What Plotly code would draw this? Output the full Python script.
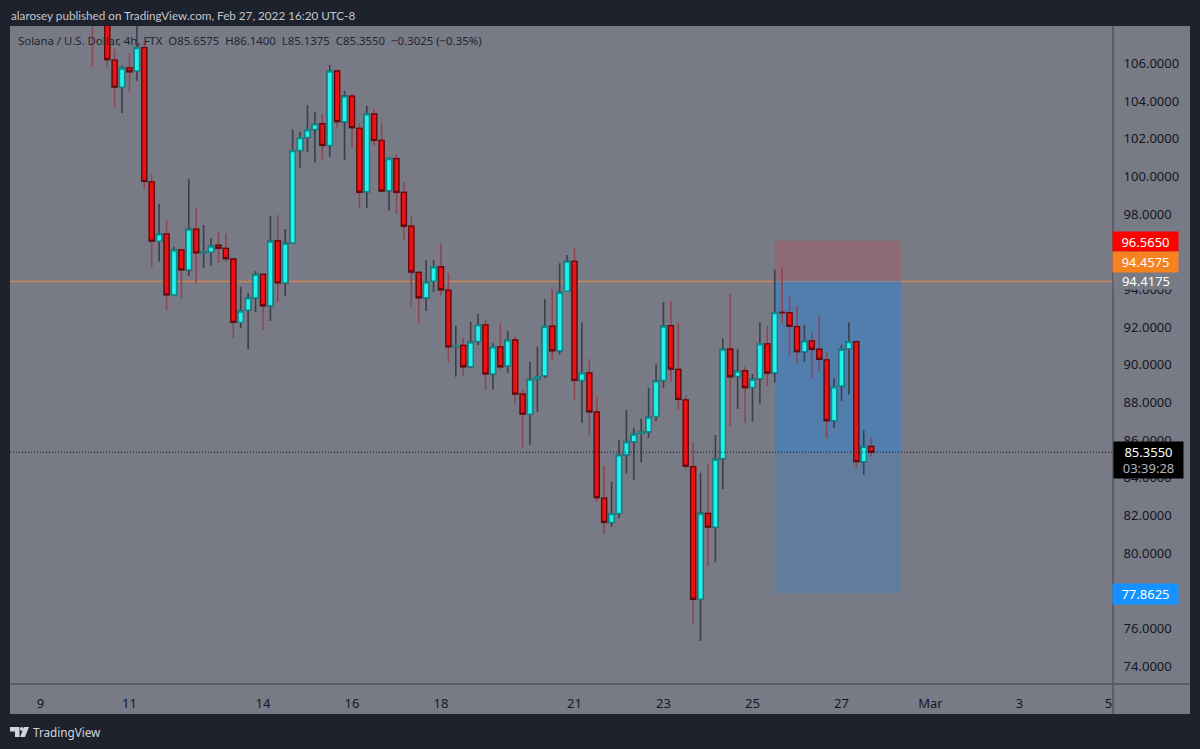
import pandas as pd
import plotly.graph_objects as go

# SOL/USD 4h candles (FTX), from Feb 10 04:00 to Feb 27 16:00
bar_start = "2022-02-10 04:00"
opens = [110.5, 109.0, 111.0, 106.17, 104.74, 105.76, 105.59, 106.83, 99.71, 96.56,
         96.94, 93.71, 96.10, 95.03, 97.20, 95.95, 95.98, 96.34, 96.18, 95.61,
         92.25, 92.90, 93.55, 94.80, 93.13, 96.58, 94.34, 96.46, 101.38, 102.07,
         102.49, 102.79, 101.64, 105.59, 102.90, 104.26, 102.55, 99.18, 103.31, 101.91,
         99.24, 100.94, 99.15, 97.36, 94.90, 93.55, 94.43, 95.20, 93.96, 90.97,
         91.03, 89.89, 91.24, 92.11, 89.51, 90.95, 89.93, 91.31, 88.44, 87.38,
         89.24, 89.42, 92.05, 90.74, 93.90, 95.49, 89.17, 89.57, 87.49, 82.92,
         81.63, 82.11, 85.22, 85.91, 86.36, 86.44, 87.26, 89.17, 92.07, 89.75,
         88.13, 84.59, 77.56, 82.11, 81.38, 85.01, 90.83, 89.38, 89.68, 88.80,
         89.26, 91.11, 89.57, 92.78, 92.76, 92.02, 90.69, 91.27, 90.82, 90.26,
         87.03, 88.87, 90.85, 91.22, 84.85, 85.6575]
highs = [111.0, 111.8, 111.6, 106.76, 105.87, 106.54, 108.6, 107.14, 100.12, 98.53,
         97.68, 96.26, 96.10, 99.84, 98.32, 97.41, 96.72, 97.04, 96.99, 95.65,
         94.14, 93.81, 94.97, 94.82, 97.91, 97.95, 97.20, 102.49, 102.37, 103.77,
         103.43, 103.29, 105.91, 105.61, 104.53, 104.40, 102.81, 103.73, 103.56, 102.84,
         100.96, 101.13, 99.71, 97.86, 94.92, 95.56, 95.56, 96.44, 94.85, 92.05,
         91.40, 92.28, 92.69, 92.37, 91.14, 92.20, 91.80, 91.49, 88.69, 90.16,
         90.95, 93.47, 94.00, 95.38, 95.82, 96.18, 92.25, 90.30, 88.30, 84.62,
         83.79, 86.00, 87.59, 86.62, 87.15, 88.78, 90.02, 93.31, 93.40, 92.25,
         88.35, 85.91, 84.27, 84.71, 86.27, 91.40, 93.74, 90.82, 89.89, 89.51,
         92.25, 92.07, 95.06, 95.17, 93.61, 93.11, 92.11, 91.70, 92.64, 90.69,
         89.28, 91.04, 92.25, 91.24, 86.53, 86.14]
lows = [105.82, 108.3, 105.82, 103.69, 103.36, 104.49, 105.07, 99.33, 95.19, 95.47,
        92.90, 93.71, 93.55, 94.71, 94.32, 95.13, 95.25, 95.40, 95.47, 91.42,
        91.95, 90.83, 92.80, 91.84, 92.32, 93.34, 93.65, 96.46, 100.46, 101.29,
        100.74, 100.90, 101.04, 102.58, 100.85, 101.52, 98.32, 98.33, 101.62, 99.20,
        98.17, 98.00, 96.62, 93.08, 92.23, 92.85, 93.87, 93.68, 90.13, 89.36,
        89.40, 89.81, 91.04, 88.66, 88.69, 89.72, 89.57, 87.90, 85.59, 85.75,
        87.50, 89.28, 90.25, 90.55, 93.88, 88.13, 86.92, 86.27, 82.73, 81.01,
        81.40, 81.85, 84.23, 83.88, 84.82, 86.12, 87.01, 88.78, 89.10, 87.59,
        84.45, 76.24, 75.33, 79.33, 79.51, 83.40, 86.76, 87.65, 86.89, 86.97,
        87.90, 88.88, 89.04, 92.20, 90.46, 90.07, 90.16, 89.28, 89.63, 86.09,
        86.62, 88.07, 88.43, 84.50, 84.14, 85.1375]
closes = [109.0, 111.0, 106.20, 104.74, 105.75, 105.55, 106.83, 99.73, 96.56, 96.94,
          93.71, 96.09, 95.03, 97.20, 95.94, 95.98, 96.30, 96.18, 95.63, 92.25,
          92.85, 93.55, 94.80, 93.13, 96.56, 94.34, 96.44, 101.36, 102.05, 102.47,
          102.78, 101.64, 105.59, 102.90, 104.26, 102.58, 99.15, 103.31, 101.91, 99.22,
          100.94, 99.15, 97.35, 94.92, 93.55, 94.39, 95.20, 93.98, 90.95, 91.01,
          89.89, 91.20, 92.11, 89.51, 90.95, 89.89, 91.31, 88.44, 87.38, 89.22,
          89.36, 92.04, 90.74, 93.84, 95.49, 89.17, 89.57, 87.50, 82.94, 81.63,
          82.09, 85.21, 85.90, 86.32, 86.43, 87.22, 89.13, 92.05, 89.77, 88.16,
          84.61, 77.55, 82.11, 81.38, 84.98, 90.82, 89.36, 89.66, 88.78, 89.22,
          91.11, 89.56, 92.76, 92.76, 92.04, 90.69, 91.26, 90.82, 90.29, 87.03,
          88.83, 90.82, 91.22, 84.85, 85.66, 85.355]
bar_times = pd.date_range(bar_start, periods=len(opens), freq="4h")

# Price levels
stop_price = 96.565
entry_price = 94.4575
target_price = 77.8625
level_price = 94.4175
last_price = 85.355
position_start = "2022-02-25 12:00"
position_end = "2022-02-28 08:00"

tick_dates = ["2022-02-09", "2022-02-11", "2022-02-14", "2022-02-16", "2022-02-18",
              "2022-02-21", "2022-02-23", "2022-02-25", "2022-02-27", "2022-03-01",
              "2022-03-03", "2022-03-05"]
tick_labels = ["9", "11", "14", "16", "18", "21", "23", "25", "27", "Mar", "3", "5"]
price_ticks = [74, 76, 80, 82, 84, 86, 88, 90, 92, 94, 96, 98, 100, 102, 104, 106]

# Page geometry in pixels
W, H = 1200, 749
PL, PR, PT, PB = 10, 1113, 26, 684
PANEL_R, PANEL_B = 1190, 714
PW, PH = PR - PL, PB - PT

DARK = "#1e222d"
PANE = "#787b86"
EDGE = "#50535e"
TEXT = "#131722"
FONT = "Noto Sans"


def fx(px):
    return (px - PL) / PW


def fy(py):
    return (PB - py) / PH


fig = go.Figure()

# Wicks sit in their own layer so they can be coloured separately from body outlines
fig.add_trace(go.Candlestick(
    x=bar_times, open=opens, high=highs, low=lows, close=closes,
    increasing=dict(line=dict(color="#3c3f4a", width=1.6), fillcolor="#22f2ec"),
    decreasing=dict(line=dict(color="#8e4653", width=1.6), fillcolor="#ee1111"),
    hoverinfo="skip", showlegend=False,
))
fig.add_trace(go.Candlestick(
    x=bar_times, open=opens, close=closes,
    high=[max(o, c) for o, c in zip(opens, closes)],
    low=[min(o, c) for o, c in zip(opens, closes)],
    increasing=dict(line=dict(color="#128a8c", width=1.3), fillcolor="#22f2ec"),
    decreasing=dict(line=dict(color="#5e0a0e", width=1.3), fillcolor="#ee1111"),
    hoverinfo="skip", showlegend=False,
))

shapes = [
    # Axis panels
    dict(type="rect", xref="paper", yref="paper", x0=1, x1=fx(PANEL_R), y0=fy(PANEL_B), y1=1,
         fillcolor=PANE, line_width=0, layer="below"),
    dict(type="rect", xref="paper", yref="paper", x0=0, x1=1, y0=fy(PANEL_B), y1=0,
         fillcolor=PANE, line_width=0, layer="below"),
    # Position tool: stop zone, traversed zone, remaining target zone
    dict(type="rect", xref="x", yref="y", x0=position_start, x1=position_end,
         y0=entry_price, y1=stop_price, fillcolor="rgba(190,70,80,0.32)", line_width=0, layer="below"),
    dict(type="rect", xref="x", yref="y", x0=position_start, x1=position_end,
         y0=last_price, y1=entry_price, fillcolor="rgba(30,130,230,0.42)", line_width=0, layer="below"),
    dict(type="rect", xref="x", yref="y", x0=position_start, x1=position_end,
         y0=target_price, y1=last_price, fillcolor="rgba(30,130,230,0.24)", line_width=0, layer="below"),
    # Horizontal level and last-price line
    dict(type="line", xref="paper", yref="y", x0=0, x1=1, y0=level_price, y1=level_price,
         line=dict(color="#cf8550", width=1.4), layer="below"),
    dict(type="line", xref="paper", yref="y", x0=0, x1=1, y0=last_price, y1=last_price,
         line=dict(color="#1a1a1a", width=1, dash="1px,2px"), layer="above"),
    # Pane separators
    dict(type="line", xref="paper", yref="paper", x0=1, x1=1, y0=fy(PANEL_B), y1=1,
         line=dict(color=EDGE, width=1.5)),
    dict(type="line", xref="paper", yref="paper", x0=0, x1=fx(PANEL_R), y0=0, y1=0,
         line=dict(color=EDGE, width=1.5)),
    # Brand mark in the footer
    dict(type="path", xref="paper", yref="paper", fillcolor="#d1d4dc", line_width=0,
         path=" ".join([
             f"M {fx(10)} {fy(727)} L {fx(19.5)} {fy(727)} L {fx(19.5)} {fy(737)} L {fx(15)} {fy(737)} "
             f"L {fx(15)} {fy(731.5)} L {fx(10)} {fy(731.5)} Z",
             f"M {fx(24)} {fy(727)} L {fx(29)} {fy(727)} L {fx(25)} {fy(737)} L {fx(20)} {fy(737)} Z",
         ])),
    dict(type="circle", xref="paper", yref="paper", x0=fx(20), x1=fx(23.6), y0=fy(731), y1=fy(727),
         fillcolor="#d1d4dc", line_width=0),
]


def price_tag(text, price, x0, x1, height, bg, color="#ffffff", shift=0):
    return dict(xref="paper", yref="y", x=fx((x0 + x1) / 2), y=price, yshift=shift,
                text=text, showarrow=False, width=x1 - x0, height=height, bgcolor=bg,
                font=dict(family=FONT, size=13, color=color), align="center", borderpad=0,
                xanchor="center", yanchor="middle")


annotations = [
    dict(xref="paper", yref="paper", x=fx(9), y=fy(15), xanchor="left", yanchor="middle",
         showarrow=False, text="alarosey published on TradingView.com, Feb 27, 2022 16:20 UTC-8",
         font=dict(family="Lato", size=11.7, color="#c3c6ce")),
    dict(xref="paper", yref="paper", x=fx(15.5), y=fy(41), xanchor="left", yanchor="middle",
         showarrow=False,
         text="Solana / U.S. Dollar, 4h, FTX  O85.6575  H86.1400  L85.1375  C85.3550  −0.3025 (−0.35%)",
         font=dict(family=FONT, size=11.4, color="#22252f")),
    dict(xref="paper", yref="paper", x=fx(31), y=fy(732), xanchor="left", yanchor="middle",
         showarrow=False, text="TradingView",
         font=dict(family=FONT, size=11.7, color="#d1d4dc")),
    # Labels on the price scale
    price_tag("94.4175", level_price, 1114, 1178, 16, PANE),
    price_tag("96.5650", stop_price, 1113, 1178, 19, "#ff0000"),
    price_tag("94.4575", entry_price, 1113, 1178, 20, "#f5811f", shift=19),
    price_tag("77.8625", target_price, 1113, 1178, 20, "#1592ff", shift=-1),
    price_tag("85.3550<br><span style='color:#b2b5be'>03:39:28</span>", last_price,
              1114, 1183, 36, "#000000", shift=-8),
]

fig.update_layout(
    width=W, height=H, autosize=False,
    margin=dict(l=PL, r=W - PR, t=PT, b=H - PB, pad=0),
    paper_bgcolor=DARK, plot_bgcolor=PANE,
    showlegend=False, boxmode="overlay", boxgap=0.32, boxgroupgap=0,
    font=dict(family=FONT, size=13, color=TEXT),
    shapes=shapes, annotations=annotations,
    xaxis=dict(
        type="date", range=["2022-02-08 07:34", "2022-03-05 02:26"],
        rangeslider=dict(visible=False), showgrid=False, zeroline=False, showline=False,
        tickmode="array", tickvals=tick_dates, ticktext=tick_labels,
        ticks="outside", ticklen=7, tickcolor="rgba(0,0,0,0)",
        tickfont=dict(family=FONT, size=13, color=TEXT),
    ),
    yaxis=dict(
        side="right", range=[73.05, 107.98], showgrid=False, zeroline=False, showline=False,
        tickmode="array", tickvals=price_ticks, tickformat=".4f",
        ticks="outside", ticklen=7, tickcolor="rgba(0,0,0,0)",
        tickfont=dict(family=FONT, size=13, color=TEXT),
    ),
)

fig.write_html("out.html", config=dict(displayModeBar=False))
